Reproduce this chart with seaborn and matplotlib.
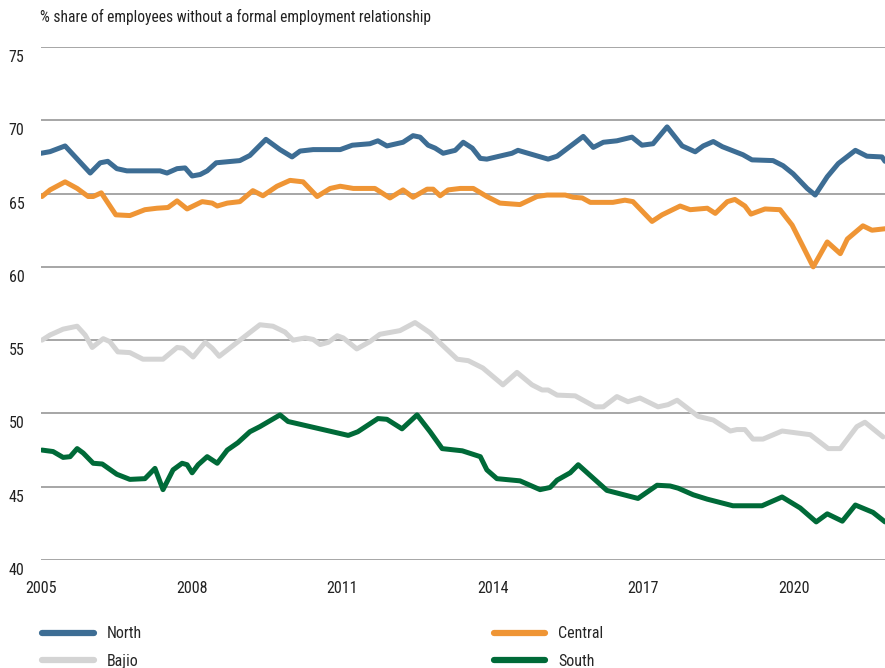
import numpy as np
import pandas as pd
import matplotlib
matplotlib.use("Agg")
import matplotlib.pyplot as plt
from matplotlib.transforms import ScaledTranslation
import seaborn as sns

# ---------------- data ----------------
north_year = [2005.0, 2005.18, 2005.48, 2005.98, 2006.18, 2006.33, 2006.51, 2006.71, 2007.37, 2007.51,
              2007.71, 2007.87, 2008.01, 2008.17, 2008.31, 2008.49, 2008.96, 2009.16, 2009.48, 2009.76,
              2010.0, 2010.16, 2010.42, 2010.96, 2011.20, 2011.55, 2011.71, 2011.89, 2012.21, 2012.41,
              2012.55, 2012.71, 2012.85, 2013.01, 2013.25, 2013.41, 2013.59, 2013.75, 2013.88, 2014.38,
              2014.50, 2015.10, 2015.28, 2015.80, 2016.0, 2016.20, 2016.47, 2016.77, 2016.97, 2017.19,
              2017.47, 2017.77, 2018.03, 2018.19, 2018.39, 2018.57, 2018.98, 2019.16, 2019.58, 2019.78,
              2019.98, 2020.26, 2020.42, 2020.66, 2020.88, 2021.22, 2021.45, 2021.75, 2021.81]
north_val = [67.75, 67.86, 68.25, 66.4, 67.1, 67.2, 66.7, 66.55, 66.55, 66.4,
             66.7, 66.75, 66.2, 66.3, 66.55, 67.1, 67.25, 67.6, 68.7, 68.0,
             67.5, 67.9, 68.0, 68.0, 68.3, 68.4, 68.6, 68.25, 68.5, 68.95,
             68.85, 68.3, 68.1, 67.75, 67.95, 68.5, 68.1, 67.4, 67.35, 67.75,
             67.95, 67.35, 67.55, 68.9, 68.15, 68.5, 68.6, 68.85, 68.3, 68.4,
             69.55, 68.25, 67.85, 68.25, 68.55, 68.2, 67.65, 67.3, 67.25, 66.9,
             66.35, 65.35, 64.9, 66.15, 67.05, 67.95, 67.55, 67.5, 67.2]

central_year = [2005.02, 2005.18, 2005.48, 2005.72, 2005.94, 2006.04, 2006.20, 2006.49, 2006.77, 2007.07,
                2007.31, 2007.53, 2007.71, 2007.91, 2008.21, 2008.41, 2008.51, 2008.71, 2008.96, 2009.22,
                2009.42, 2009.70, 2009.96, 2010.22, 2010.50, 2010.76, 2010.96, 2011.22, 2011.65, 2011.95,
                2012.21, 2012.41, 2012.69, 2012.81, 2012.95, 2013.11, 2013.35, 2013.61, 2013.88, 2014.14,
                2014.54, 2014.88, 2015.08, 2015.44, 2015.60, 2015.78, 2015.94, 2016.39, 2016.63, 2016.79,
                2017.17, 2017.37, 2017.73, 2017.93, 2018.27, 2018.43, 2018.67, 2018.82, 2019.02, 2019.14,
                2019.42, 2019.72, 2019.96, 2020.16, 2020.38, 2020.66, 2020.92, 2021.06, 2021.37, 2021.55,
                2021.81]
central_val = [64.8, 65.25, 65.8, 65.35, 64.8, 64.8, 65.05, 63.55, 63.5, 63.9,
               64.0, 64.05, 64.5, 63.95, 64.45, 64.35, 64.15, 64.35, 64.45, 65.2,
               64.85, 65.5, 65.9, 65.8, 64.8, 65.35, 65.5, 65.35, 65.35, 64.7,
               65.25, 64.75, 65.3, 65.3, 64.85, 65.25, 65.35, 65.35, 64.8, 64.35,
               64.25, 64.8, 64.9, 64.9, 64.75, 64.7, 64.4, 64.4, 64.55, 64.45,
               63.1, 63.55, 64.15, 63.9, 64.0, 63.65, 64.45, 64.6, 64.15, 63.6,
               63.95, 63.9, 62.85, 61.5, 60.0, 61.7, 60.9, 61.9, 62.8, 62.5,
               62.6]

bajio_year = [2005.02, 2005.18, 2005.44, 2005.72, 2005.88, 2006.02, 2006.24, 2006.37, 2006.53, 2006.77,
              2007.03, 2007.43, 2007.71, 2007.83, 2008.03, 2008.27, 2008.41, 2008.55, 2009.02, 2009.36,
              2009.62, 2009.86, 2010.02, 2010.26, 2010.42, 2010.56, 2010.72, 2010.90, 2011.02, 2011.29,
              2011.55, 2011.75, 2012.15, 2012.45, 2012.75, 2012.95, 2013.29, 2013.51, 2013.80, 2014.20,
              2014.48, 2014.78, 2014.98, 2015.10, 2015.28, 2015.64, 2015.80, 2016.04, 2016.20, 2016.47,
              2016.69, 2016.93, 2017.29, 2017.49, 2017.67, 2018.09, 2018.39, 2018.73, 2018.86, 2019.02,
              2019.18, 2019.38, 2019.76, 2020.32, 2020.68, 2020.92, 2021.25, 2021.41, 2021.77]
bajio_val = [55.0, 55.35, 55.75, 55.95, 55.35, 54.5, 55.1, 54.9, 54.2, 54.15,
             53.7, 53.7, 54.5, 54.45, 53.85, 54.85, 54.45, 53.9, 55.15, 56.05,
             55.95, 55.55, 55.0, 55.15, 55.05, 54.7, 54.85, 55.3, 55.15, 54.4,
             54.9, 55.4, 55.65, 56.2, 55.5, 54.8, 53.7, 53.6, 53.1, 51.95,
             52.8, 51.95, 51.6, 51.6, 51.25, 51.2, 50.9, 50.45, 50.45, 51.15,
             50.8, 51.05, 50.45, 50.6, 50.9, 49.8, 49.55, 48.8, 48.9, 48.9,
             48.25, 48.25, 48.8, 48.55, 47.6, 47.6, 49.1, 49.4, 48.4]

south_year = [2005.02, 2005.24, 2005.44, 2005.58, 2005.72, 2005.84, 2006.04, 2006.22, 2006.51, 2006.77,
              2007.07, 2007.27, 2007.43, 2007.63, 2007.81, 2007.91, 2008.01, 2008.13, 2008.31, 2008.51,
              2008.71, 2008.92, 2009.16, 2009.36, 2009.76, 2009.92, 2011.12, 2011.31, 2011.71, 2011.89,
              2012.19, 2012.49, 2012.75, 2012.99, 2013.39, 2013.75, 2013.88, 2014.08, 2014.54, 2014.94,
              2015.14, 2015.28, 2015.54, 2015.70, 2016.27, 2016.89, 2017.27, 2017.53, 2017.69, 2017.99,
              2018.27, 2018.78, 2019.36, 2019.76, 2020.12, 2020.44, 2020.66, 2020.96, 2021.22, 2021.57,
              2021.81]
south_val = [47.5, 47.4, 47.0, 47.05, 47.6, 47.3, 46.6, 46.55, 45.85, 45.5,
             45.55, 46.25, 44.8, 46.15, 46.6, 46.5, 45.95, 46.5, 47.05, 46.6,
             47.5, 48.0, 48.75, 49.1, 49.9, 49.45, 48.5, 48.75, 49.65, 49.6,
             48.95, 49.9, 48.75, 47.6, 47.45, 47.05, 46.15, 45.55, 45.4, 44.8,
             44.95, 45.45, 45.95, 46.5, 44.75, 44.2, 45.1, 45.05, 44.9, 44.45,
             44.15, 43.7, 43.7, 44.3, 43.55, 42.6, 43.15, 42.65, 43.75, 43.25,
             42.6]

regions = ["North", "Central", "Bajio", "South"]
colors = {"North": "#3d6d94", "Central": "#ef9535", "Bajio": "#d4d4d4", "South": "#006a38"}
x_ticks = [2005, 2008, 2011, 2014, 2017, 2020]
y_ticks = [40, 45, 50, 55, 60, 65, 70, 75]
title = "% share of employees without a formal employment relationship"

frames = []
for name, yrs, vals in [("North", north_year, north_val), ("Central", central_year, central_val),
                        ("Bajio", bajio_year, bajio_val), ("South", south_year, south_val)]:
    frames.append(pd.DataFrame({"year": yrs, "value": vals, "region": name}))
df = pd.concat(frames, ignore_index=True)

# ---------------- plot ----------------
sns.set_theme(style="white")
FONT = ["Liberation Sans Narrow", "Roboto Condensed", "DejaVu Sans"]
plt.rcParams["font.family"] = FONT

fig = plt.figure(figsize=(8.85, 6.68), dpi=100)
ax = fig.add_axes([41 / 885, 1 - 560 / 668, 844 / 885, 513 / 668])

sns.lineplot(data=df, x="year", y="value", hue="region", hue_order=regions,
             palette=colors, linewidth=3.6, estimator=None, sort=True, ax=ax)

ax.set_xlim(2005, 2021.81)
ax.set_ylim(40, 75)
ax.set_xticks(x_ticks)
ax.set_xticklabels([str(t) for t in x_ticks])
ax.set_yticks(y_ticks)
ax.set_yticklabels([str(t) for t in y_ticks])
ax.set_xlabel("")
ax.set_ylabel("")
ax.grid(axis="y", color="#a6a6a6", linewidth=1.4)
ax.grid(axis="x", visible=False)
ax.set_axisbelow(True)
for s in ax.spines.values():
    s.set_visible(False)
ax.tick_params(axis="both", length=0, labelsize=11.5, colors="#222222")
ax.tick_params(axis="y", pad=12)
ax.tick_params(axis="x", pad=15)
off = ScaledTranslation(0, -9 / 100, fig.dpi_scale_trans)
for lbl in ax.get_yticklabels():
    lbl.set_transform(lbl.get_transform() + off)
    lbl.set_horizontalalignment("right")

fig.text(40 / 885, 1 - 17 / 668, title, fontsize=11.2, va="center", ha="left", color="#222222")

handles, labels = ax.get_legend_handles_labels()
ax.get_legend().remove()
hmap = dict(zip(labels, handles))
order = ["North", "Bajio", "Central", "South"]
leg = fig.legend([hmap[k] for k in order], order, loc="upper left",
                 bbox_to_anchor=(36 / 885, 1 - 620 / 668), ncol=2, frameon=False,
                 fontsize=11.5, handlelength=3.25, handletextpad=0.8,
                 columnspacing=22.0, labelspacing=0.78, borderaxespad=0)
for h in leg.get_lines():
    h.set_linewidth(4.5)
    h.set_solid_capstyle("round")

fig.savefig("out.png", dpi=100)
